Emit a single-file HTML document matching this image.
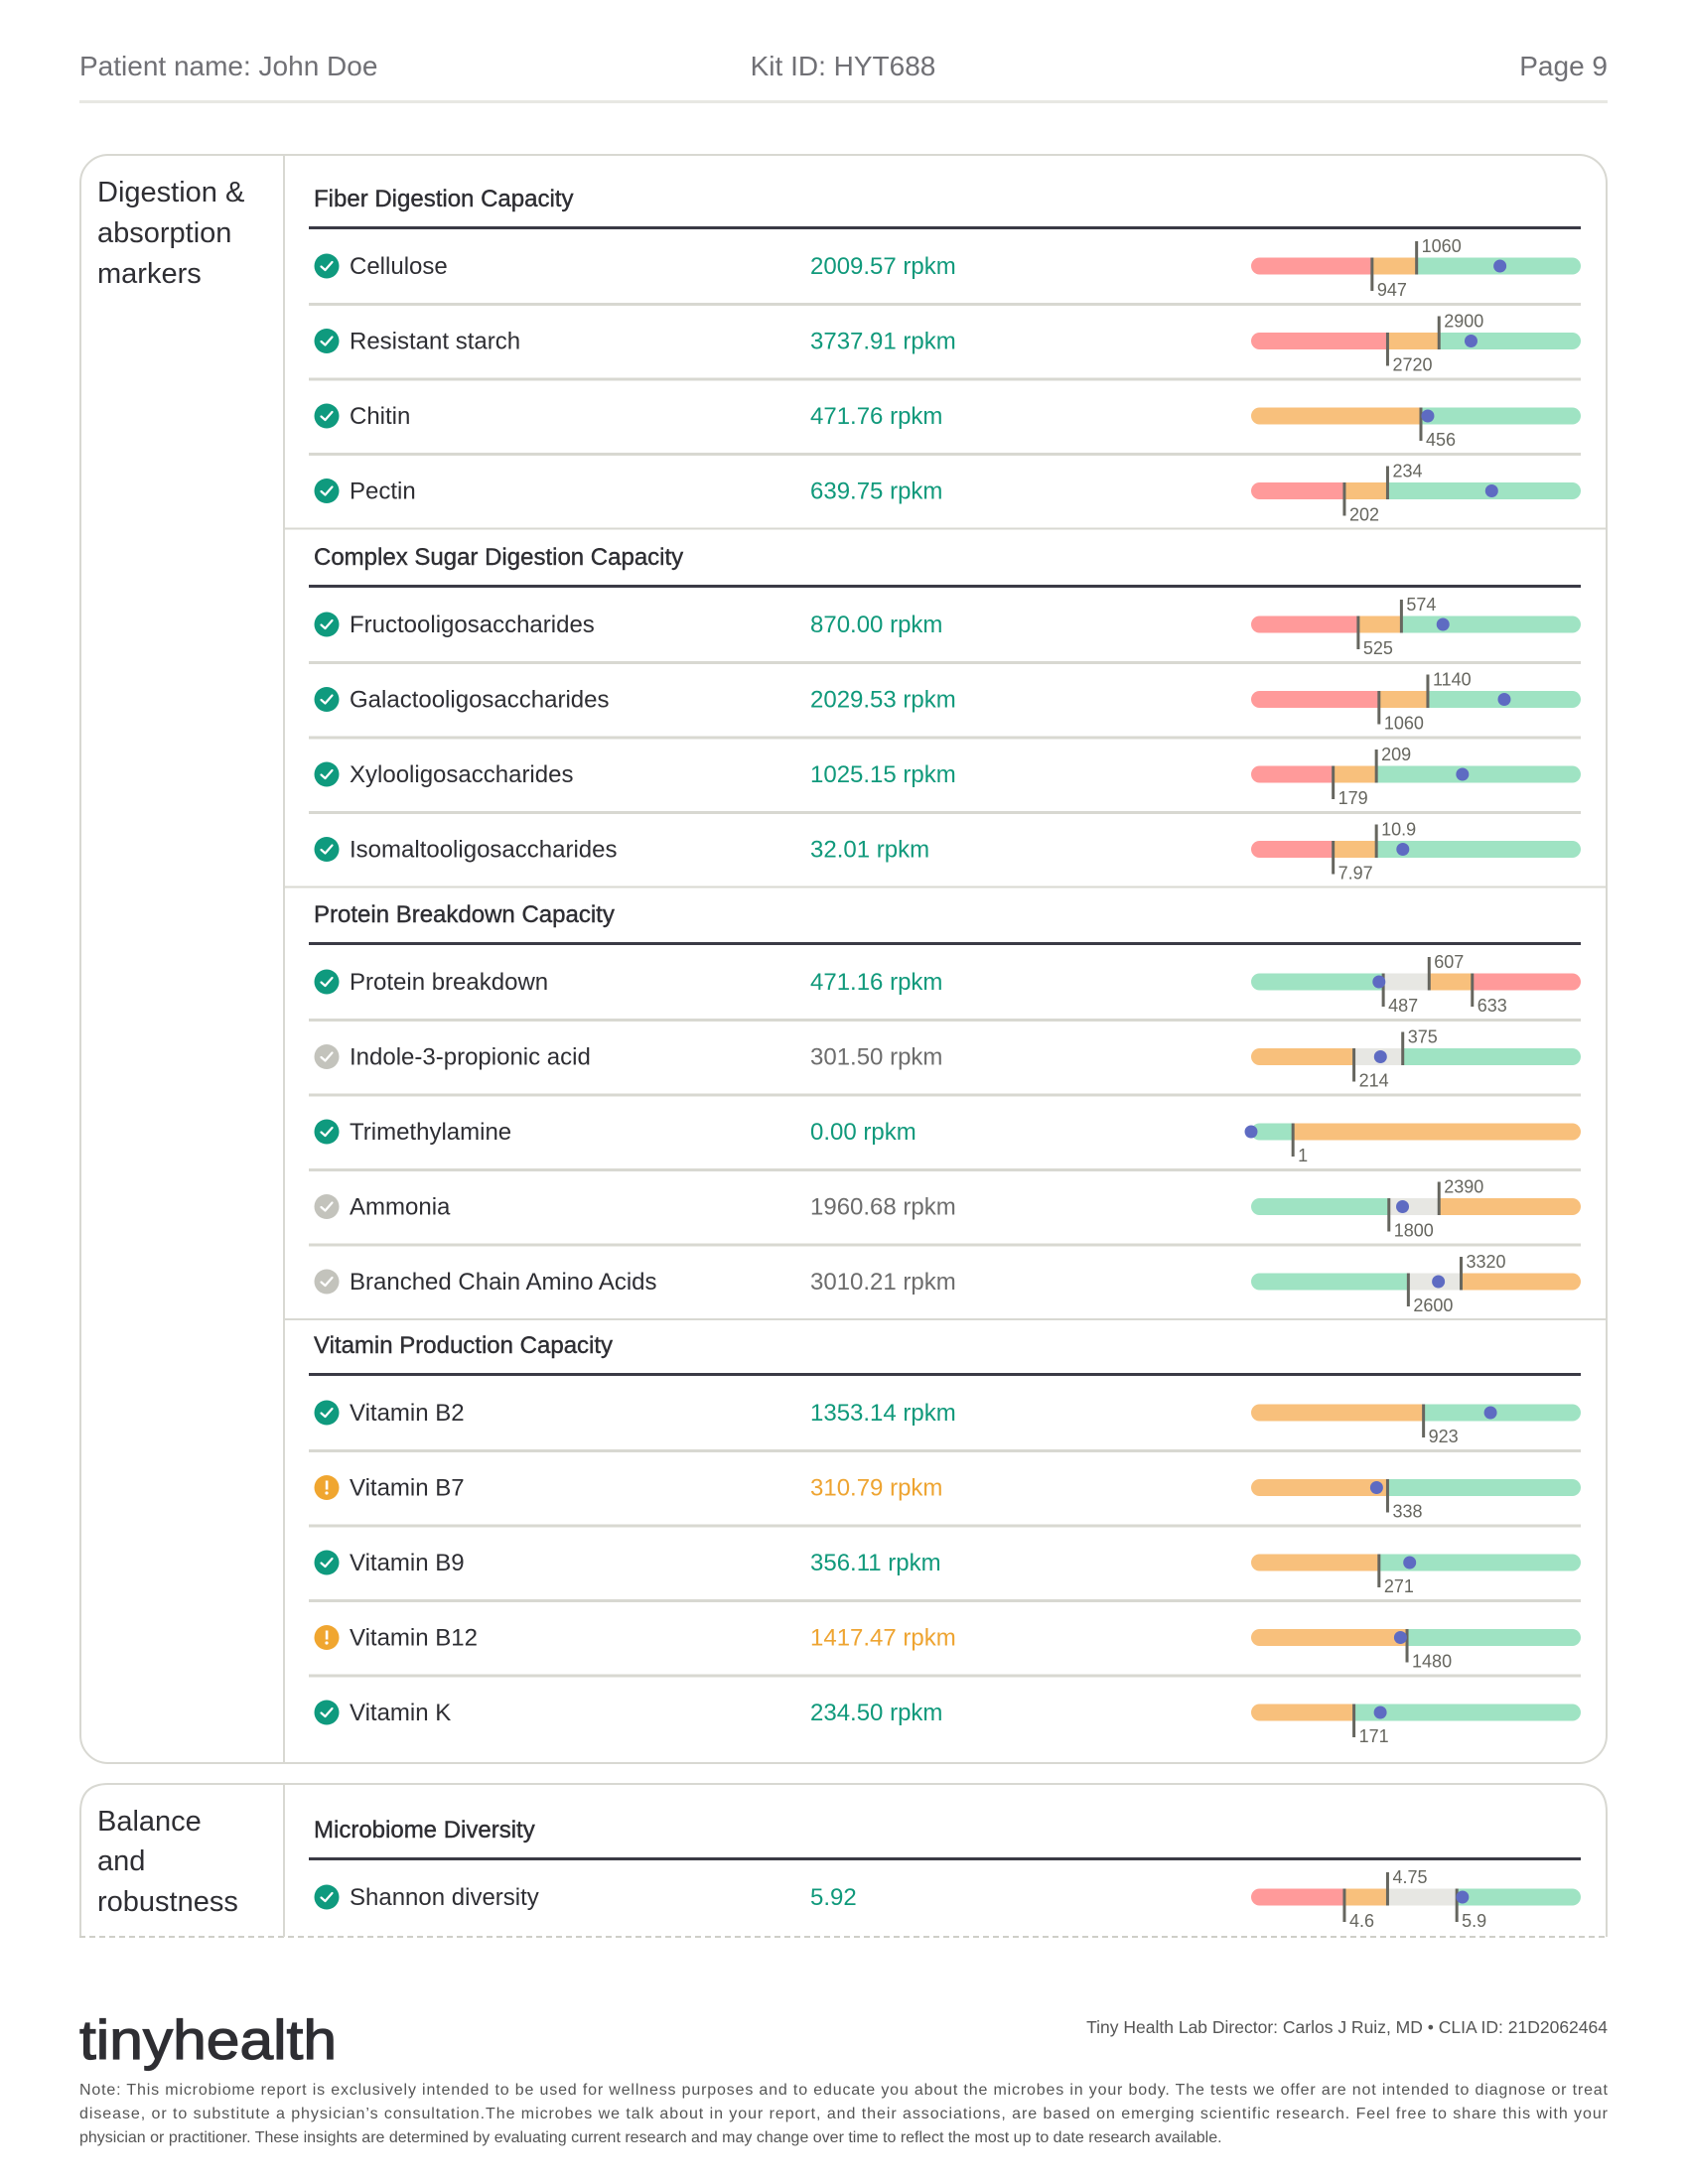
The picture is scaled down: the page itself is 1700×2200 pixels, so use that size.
<!DOCTYPE html>
<html><head><meta charset="utf-8"><style>
html,body{margin:0;padding:0;background:#fff}
svg{display:block;font-family:"Liberation Sans",sans-serif}
</style></head><body>
<svg id="pg" width="1700" height="2200" viewBox="0 0 1700 2200" xmlns="http://www.w3.org/2000/svg">
<g fill="#707075" font-size="28">
<text x="80" y="76">Patient name: John Doe</text>
<text x="849" y="76" text-anchor="middle">Kit ID: HYT688</text>
<text x="1619" y="76" text-anchor="end">Page 9</text>
<rect x="80" y="101" width="1539" height="3" fill="#e8e8e3"/>
</g>
<g id="boxes"></g>
<g id="rows"></g>
<g>
<text x="80" y="2074" font-size="56" fill="#2e2e33" stroke="#2e2e33" stroke-width="1.2" textLength="259" lengthAdjust="spacingAndGlyphs">tinyhealth</text>
<text x="1619" y="2048" font-size="17.5" fill="#555" text-anchor="end">Tiny Health Lab Director: Carlos J Ruiz, MD • CLIA ID: 21D2062464</text>
<g font-size="16" fill="#555">
<text x="80" y="2110" textLength="1539" lengthAdjust="spacing">Note: This microbiome report is exclusively intended to be used for wellness purposes and to educate you about the microbes in your body. The tests we offer are not intended to diagnose or treat</text>
<text x="80" y="2134" textLength="1539" lengthAdjust="spacing">disease, or to substitute a physician’s consultation.The microbes we talk about in your report, and their associations, are based on emerging scientific research. Feel free to share this with your</text>
<text x="80" y="2158">physician or practitioner. These insights are determined by evaluating current research and may change over time to reflect the most up to date research available.</text>
</g>
</g>
</svg>
<script>
const sectionTitles=["Fiber Digestion Capacity","Complex Sugar Digestion Capacity","Protein Breakdown Capacity","Vitamin Production Capacity","Microbiome Diversity"];
const sectionCounts=[4,4,5,5,1];
const rowNames=["Cellulose","Resistant starch","Chitin","Pectin","Fructooligosaccharides","Galactooligosaccharides","Xylooligosaccharides","Isomaltooligosaccharides","Protein breakdown","Indole-3-propionic acid","Trimethylamine","Ammonia","Branched Chain Amino Acids","Vitamin B2","Vitamin B7","Vitamin B9","Vitamin B12","Vitamin K","Shannon diversity"];
const rowValues=[2009.57,3737.91,471.76,639.75,870.00,2029.53,1025.15,32.01,471.16,301.50,0.00,1960.68,3010.21,1353.14,310.79,356.11,1417.47,234.50,5.92];
const rowUnits=["rpkm","rpkm","rpkm","rpkm","rpkm","rpkm","rpkm","rpkm","rpkm","rpkm","rpkm","rpkm","rpkm","rpkm","rpkm","rpkm","rpkm","rpkm",""];
const rowStatus=["ok","ok","ok","ok","ok","ok","ok","ok","ok","na","ok","na","na","ok","warn","ok","warn","ok","ok"];
const rowThresholds=[[947,1060],[2720,2900],[456],[202,234],[525,574],[1060,1140],[179,209],[7.97,10.9],[487,607,633],[214,375],[1],[1800,2390],[2600,3320],[923],[338],[271],[1480],[171],[4.6,4.75,5.9]];
const rowThresholdLabels=[["947","1060"],["2720","2900"],["456"],["202","234"],["525","574"],["1060","1140"],["179","209"],["7.97","10.9"],["487","607","633"],["214","375"],["1"],["1800","2390"],["2600","3320"],["923"],["338"],["271"],["1480"],["171"],["4.6","4.75","5.9"]];
const rowDomainMax=[2930,6610,820,987,1852,2919,2147,174,800,700,10,4000,5000,1933,800,831,3000,718,6.34];
const rowTickFrac=[[.367,.502],[.414,.570],[.515],[.283,.414],[.325,.456],[.388,.536],[.249,.380],[.249,.380],[.401,.540,.671],[.312,.460],[.127],[.418,.570],[.477,.637],[.523],[.414],[.388],[.473],[.312],[.283,.414,.624]];
const rowSegColors=[["r","o","g"],["r","o","g"],["o","g"],["r","o","g"],["r","o","g"],["r","o","g"],["r","o","g"],["r","o","g"],["g","y","o","r"],["o","y","g"],["g","o"],["g","y","o"],["g","y","o"],["o","g"],["o","g"],["o","g"],["o","g"],["o","g"],["r","o","y","g"]];

const NS="http://www.w3.org/2000/svg";
const COL={r:"#ff9a9a",o:"#f8c07c",g:"#9fe3c3",y:"#e7e7e3"};
const BX0=1260,BX1=1592,BH=17;
function mk(tag,attrs,parent){const e=document.createElementNS(NS,tag);for(const k in attrs)e.setAttribute(k,attrs[k]);parent.appendChild(e);return e;}
function scaleFor(i){
  const d=[0].concat(rowThresholds[i],[rowDomainMax[i]]);
  const r=[0].concat(rowTickFrac[i],[1]);
  return v=>{let f;
    if(v<=d[0])f=0;else if(v>=d[d.length-1])f=1;else{
      for(let k=0;k<d.length-1;k++){if(v>=d[k]&&v<=d[k+1]){f=r[k]+(r[k+1]-r[k])*(v-d[k])/((d[k+1]-d[k])||1);break;}}}
    return BX0+f*(BX1-BX0);};
}
const boxes=document.getElementById('boxes');
const rowsG=document.getElementById('rows');
let b1=mk('rect',{x:81,y:156,width:1537,height:1620,rx:28,fill:"none",stroke:"#d8d8d2","stroke-width":2},boxes);


let d1=mk('line',{x1:286,y1:156,x2:286,y2:1776,stroke:"#d8d8d2","stroke-width":2},boxes);


let b2=mk('path',{d:"M81 1951 V1825 Q81 1797 109 1797 H1590 Q1618 1797 1618 1825 V1951",fill:"none",stroke:"#d8d8d2","stroke-width":2},boxes);


let dash=mk('line',{x1:80,y1:1951,x2:1619,y2:1951,stroke:"#cfcfc8","stroke-width":2,"stroke-dasharray":"6 4"},boxes);


let d2=mk('line',{x1:286,y1:1797,x2:286,y2:1951,stroke:"#d8d8d2","stroke-width":2},boxes);


const cardLabels=[[["Digestion &",203],["absorption",244],["markers",285]],[["Balance",1844],["and",1884],["robustness",1925]]];
cardLabels.forEach((lines,ci)=>{lines.forEach(l=>{const t=mk('text',{x:98,y:l[1],"font-size":29,fill:"#2e2e33"},boxes);t.textContent=l[0];

});});

const titleY=[200,561,921,1355,1843];
let idx=0;
sectionTitles.forEach((title,s)=>{
  const ty=titleY[s];
  const t=mk('text',{x:316,y:ty+8,"font-size":24,fill:"#2e2e33",stroke:"#2e2e33","stroke-width":0.4},rowsG);
  t.textContent=title;
  
  
  const rl=mk('rect',{x:311,y:ty+28,width:1281,height:3,fill:"#3a3a45"},rowsG);
  
  
  for(let k=0;k<sectionCounts[s];k++,idx++){
    const i=idx;const cy=ty+68+k*75.5;
    const g=mk('g',{},rowsG);
    
    
    if(k<sectionCounts[s]-1){const sp=mk('rect',{x:311,y:cy+37,width:1281,height:3,fill:"#d8d8d1"},g);
      
      }
    const st=rowStatus[i];
    const ic=mk('g',{},g);
    
    
    const icol=st==="ok"?"#0f9a7e":st==="warn"?"#f0a630":"#c3c3bc";
    mk('circle',{cx:329,cy:cy,r:12.5,fill:icol},ic);
    if(st==="warn"){mk('rect',{x:327.8,y:cy-7,width:2.6,height:9,fill:"#fff"},ic);mk('circle',{cx:329,cy:cy+5.5,r:1.6,fill:"#fff"},ic);}
    else mk('path',{d:`M323.5 ${cy+0.5} L327.5 ${cy+4} L334.5 ${cy-4}`,fill:"none",stroke:"#fff","stroke-width":2.2,"stroke-linecap":"round","stroke-linejoin":"round"},ic);
    const nm=mk('text',{x:352,y:cy+8,"font-size":24,fill:"#2e2e33"},g);nm.textContent=rowNames[i];
    
    
    const vcol=st==="ok"?"#10997b":st==="warn"?"#eea431":"#6d6d6d";
    const vt=mk('text',{x:816,y:cy+8,"font-size":24,fill:vcol},g);
    vt.textContent=rowValues[i].toFixed(2)+(rowUnits[i]?" "+rowUnits[i]:"");
    
    
    const sc=scaleFor(i);
    const bar=mk('g',{},g);
    
    
    const clipId='c'+i;
    const cp=mk('clipPath',{id:clipId},bar);
    mk('rect',{x:BX0,y:cy-BH/2,width:BX1-BX0,height:BH,rx:BH/2},cp);
    const edges=[BX0].concat(rowThresholds[i].map(sc),[BX1]);
    rowSegColors[i].forEach((c,j)=>{
      const seg=mk('rect',{x:edges[j],y:cy-BH/2,width:Math.max(0,edges[j+1]-edges[j]),height:BH,fill:COL[c],"clip-path":`url(#${clipId})`},bar);
      
      
    });
    const n=rowThresholds[i].length;
    rowThresholds[i].forEach((tv,j)=>{
      const x=sc(tv);
      const up=(n===2&&j===1)||(n===3&&j===1);
      const tk=mk('line',{x1:x,x2:x,y1:up?cy-25:cy-8.5,y2:up?cy+8.5:cy+25,stroke:"#66665f","stroke-width":3},bar);
      
      
      const lb=mk('text',{x:x+5,y:up?cy-14:cy+30,"font-size":18,fill:"#66665f"},bar);
      lb.textContent=rowThresholdLabels[i][j];
      
      
    });
    const dot=mk('circle',{cx:sc(rowValues[i]),cy:cy,r:6.5,fill:"#5e6bc2"},bar);
    
    
  }
  if(s<3){const el=mk('rect',{x:286,y:ty+68+(sectionCounts[s]-1)*75.5+37,width:1333,height:2,fill:"#d8d8d2"},rowsG);
    
    }
});
</script>
</body></html>
